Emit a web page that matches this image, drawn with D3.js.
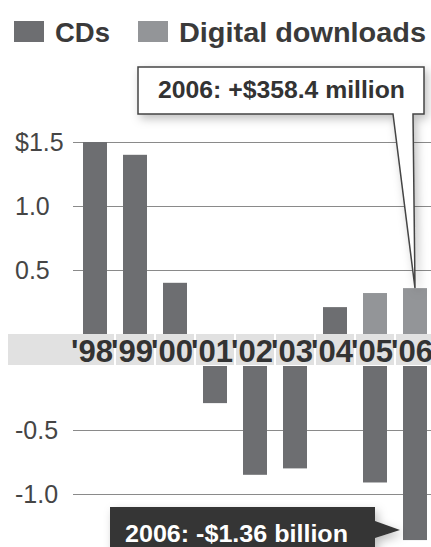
<!DOCTYPE html>
<html>
<head>
<meta charset="utf-8">
<script src="https://cdn.jsdelivr.net/npm/d3@7"></script>
<style>
body { margin: 0; background: #fff; }
svg { display: block; font-family: "Liberation Sans", Arial, sans-serif; }
</style>
</head>
<body>
<div id="chart"></div>
<script>
// change in sales, $ billions
const years = ["'98", "'99", "'00", "'01", "'02", "'03", "'04", "'05", "'06"];
const cdValues = [1.5, 1.4, 0.4, -0.29, -0.85, -0.8, 0.21, -0.91, -1.36];
const digitalValues = [0, 0, 0, 0, 0, 0, 0, 0.32, 0.3584];
const posTicks = [0.5, 1.0, 1.5];
const negTicks = [-0.5, -1.0];
const legendItems = ["CDs", "Digital downloads"];

const width = 431, height = 547;
const cdColor = '#6d6e71', ddColor = '#939598';

const svg = d3.select('#chart').append('svg')
  .attr('width', width)
  .attr('height', height);

const defs = svg.append('defs');
defs.append('filter').attr('id', 'shadow')
  .attr('x', '-20%').attr('y', '-30%').attr('width', '140%').attr('height', '160%')
  .append('feDropShadow')
  .attr('dx', 3).attr('dy', 4).attr('stdDeviation', 5)
  .attr('flood-color', '#000').attr('flood-opacity', 0.25);

const x = d3.scaleBand()
  .domain(years)
  .range([75, 435])
  .paddingInner(0.4)
  .paddingOuter(0.2);

// positive part sits above the year band, negative part below it
const yPos = d3.scaleLinear().domain([0, 1.5]).range([334, 142]);
const yNeg = d3.scaleLinear().domain([0, -1.5]).range([366, 558]);

// legend
const legend = svg.append('g');
legendItems.forEach((t, i) => {
  const lx = i == 0 ? 14 : 138;
  legend.append('rect')
    .attr('x', lx).attr('y', 21).attr('width', 30).attr('height', 21)
    .attr('fill', i == 0 ? cdColor : ddColor);
  legend.append('text')
    .attr('x', lx + 41).attr('y', 42)
    .attr('font-size', 28).attr('font-weight', 'bold')
    .attr('textLength', i == 0 ? 55 : 247).attr('lengthAdjust', 'spacingAndGlyphs')
    .attr('fill', '#3a3a3a')
    .text(t);
});

// gridlines + labels
const fmt = d => d == 1.5 ? '$1.5' : d.toFixed(1);
const gridPos = svg.append('g')
  .attr('transform', 'translate(73,0)')
  .call(d3.axisLeft(yPos).tickValues(posTicks).tickSize(-(width - 73)).tickFormat(fmt));
const gridNeg = svg.append('g')
  .attr('transform', 'translate(73,0)')
  .call(d3.axisLeft(yNeg).tickValues(negTicks).tickSize(-(width - 73)).tickFormat(fmt));

[gridPos, gridNeg].forEach(g => {
  g.select('.domain').remove();
  g.selectAll('line').attr('stroke', '#8a8a8a').attr('stroke-width', 1.2);
  g.selectAll('text')
    .attr('x', -58).attr('dy', '0.35em')
    .attr('text-anchor', 'start')
    .attr('font-size', 25)
    .attr('font-family', '"Liberation Sans", Arial, sans-serif')
    .attr('fill', '#454545');
});

// bars
const bars = svg.append('g');
years.forEach((yr, i) => {
  const bx = x(yr), bw = x.bandwidth();
  const cd = cdValues[i], dd = digitalValues[i];
  if (cd > 0) {
    bars.append('rect').attr('x', bx).attr('width', bw)
      .attr('y', yPos(cd)).attr('height', yPos(0) - yPos(cd))
      .attr('fill', cdColor);
  } else if (cd < 0) {
    bars.append('rect').attr('x', bx).attr('width', bw)
      .attr('y', yNeg(0)).attr('height', yNeg(cd) - yNeg(0))
      .attr('fill', cdColor);
  }
  if (dd > 0) {
    bars.append('rect').attr('x', bx).attr('width', bw)
      .attr('y', yPos(dd)).attr('height', yPos(0) - yPos(dd))
      .attr('fill', ddColor);
  }
});

// year band
const step = x.step();
const band = svg.append('g');
years.forEach((yr, i) => {
  const cx = x(yr) + x.bandwidth() / 2;
  const left = i == 0 ? 8 : cx - step / 2 + 1;
  band.append('rect')
    .attr('x', left).attr('y', yPos(0))
    .attr('width', cx + step / 2 - 1 - left).attr('height', yNeg(0) - yPos(0) - 1)
    .attr('fill', '#e1e1e1');
  band.append('text')
    .attr('x', cx + step / 2 - 2).attr('y', 362)
    .attr('text-anchor', 'end')
    .attr('font-size', 31).attr('font-weight', 'bold')
    .attr('textLength', 42).attr('lengthAdjust', 'spacingAndGlyphs')
    .attr('fill', '#333')
    .text(yr);
});

// callouts for 2006
const last = years[years.length - 1];
const lx = x(last) + x.bandwidth() / 2;
const topTipY = yPos(digitalValues[digitalValues.length - 1]);
svg.append('path')
  .attr('d', `M138,67 H424 V114 H413 L${lx},${topTipY} L393,114 H138 Z`)
  .attr('fill', '#fff').attr('stroke', '#444').attr('stroke-width', 1.5)
  .attr('filter', 'url(#shadow)');
svg.append('text')
  .attr('x', 158).attr('y', 98)
  .attr('font-size', 24).attr('font-weight', 'bold')
  .attr('textLength', 247).attr('lengthAdjust', 'spacingAndGlyphs')
  .attr('fill', '#333')
  .text('2006: +$358.4 million');

const botTipY = yNeg(cdValues[cdValues.length - 1]) - 10;
const botTipX = x(last) - 3;
svg.append('path')
  .attr('d', `M110,507 H375 V${botTipY - 9} L${botTipX},${botTipY} L375,${botTipY + 8} V560 H110 Z`)
  .attr('fill', '#353535')
  .attr('filter', 'url(#shadow)');
svg.append('text')
  .attr('x', 125).attr('y', 542)
  .attr('font-size', 24).attr('font-weight', 'bold')
  .attr('textLength', 223).attr('lengthAdjust', 'spacingAndGlyphs')
  .attr('fill', '#fff')
  .text('2006: -$1.36 billion');
</script>
</body>
</html>
